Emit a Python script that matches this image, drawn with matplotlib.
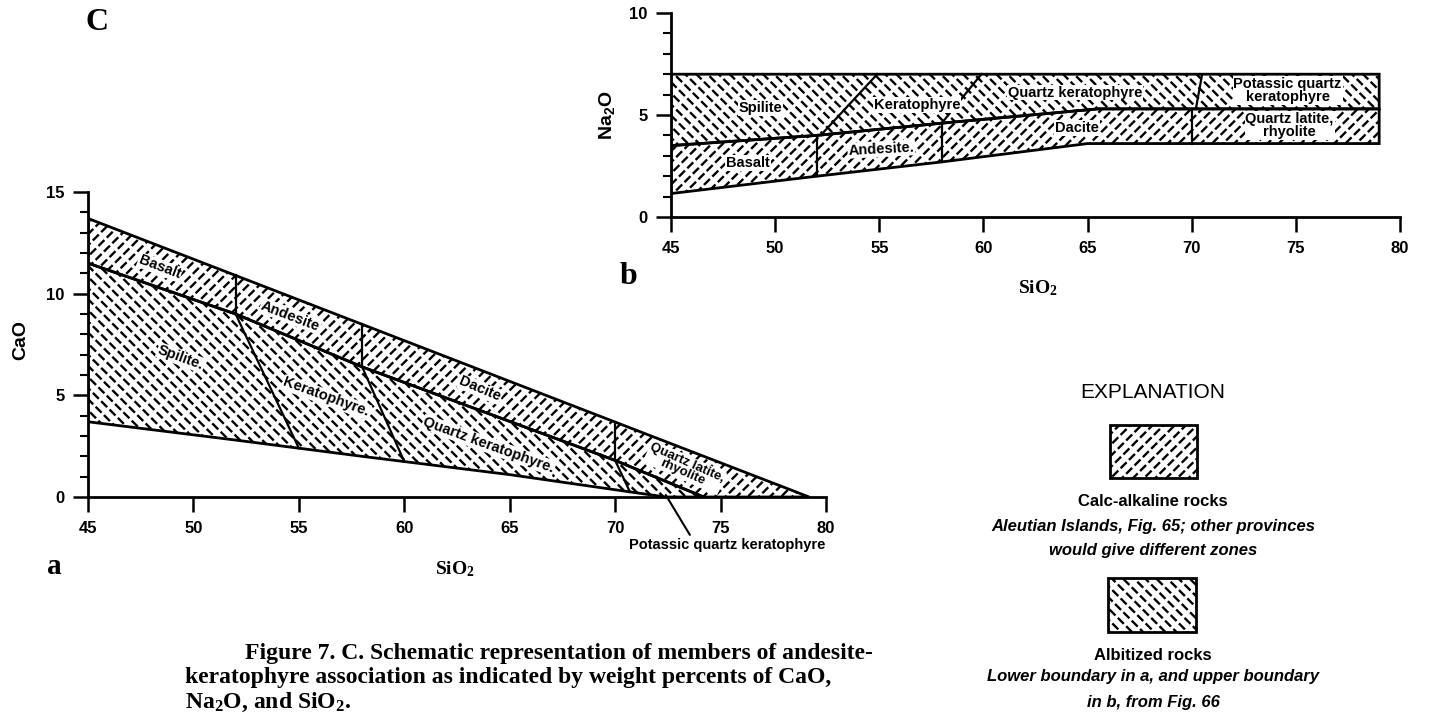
import matplotlib
matplotlib.use("Agg")
import numpy as np
import matplotlib.pyplot as plt
from matplotlib.patches import Polygon
from matplotlib.ticker import MultipleLocator
from matplotlib import font_manager

# panel a: CaO vs SiO2, boundary lines
a_top_si = [45, 79.2]
a_top_cao = [13.7, 0.0]
a_mid_si = [45, 52, 58, 64, 70, 74.2]
a_mid_cao = [11.5, 9.0, 6.4, 4.1, 1.8, 0.0]
a_low_si = [45, 52, 58, 65, 72.4]
a_low_cao = [3.7, 2.8, 2.0, 1.1, 0.0]
a_calc_div = [52, 58, 70]          # calc-alkaline zone limits
a_alb_div_top = [52, 58, 70]       # albitized zone limits on the middle line
a_alb_div_low = [55, 60, 70.7]     # ...and where they reach the lower line
a_calc_names = ["Basalt", "Andesite", "Dacite", "Quartz latite,\nrhyolite"]
a_alb_names = ["Spilite.", "Keratophyre.", "Quartz keratophyre."]

# panel b: Na2O vs SiO2
b_top_si = [45, 79]
b_top_na = [7.0, 7.0]
b_mid_si = [45, 52, 58, 65.5, 79]
b_mid_na = [3.5, 4.0, 4.6, 5.3, 5.3]
b_low_si = [45, 52, 58, 65, 79]
b_low_na = [1.15, 2.0, 2.7, 3.6, 3.6]
b_calc_div = [52, 58, 70]
b_alb_div_low = [52.2, 58, 70.2]
b_alb_div_top = [54.9, 59.9, 70.5]
b_calc_names = ["Basalt", "Andesite.", "Dacite", "Quartz latite,\nrhyolite"]
b_alb_names = ["Spilite", "Keratophyre", "Quartz keratophyre",
               "Potassic quartz\nkeratophyre"]

# label placement (x, y, rotation)
a_calc_pos = [(48.4, 11.3, -21), (54.6, 8.9, -21), (63.6, 5.3, -23), (73.3, 1.45, -24)]
a_alb_pos = [(49.4, 6.85, -20), (56.3, 4.9, -20), (64.0, 2.55, -20)]
b_calc_pos = [(48.7, 2.65, 0), (55.1, 3.33, 3), (64.5, 4.36, 0), (74.7, 4.5, 0)]
b_alb_pos = [(49.3, 5.35, 0), (56.8, 5.5, 0), (64.4, 6.1, 0), (74.6, 6.2, 0)]

W, H = 1430, 726
names = {f.name for f in font_manager.fontManager.ttflist}
narrow = 'Liberation Sans Narrow' if 'Liberation Sans Narrow' in names else 'Liberation Sans'
SANS = ['Liberation Sans', 'DejaVu Sans']
SERIF = ['Liberation Serif', 'DejaVu Serif']

plt.rcParams['font.family'] = SANS
plt.rcParams['font.weight'] = 'bold'
plt.rcParams['mathtext.default'] = 'regular'
plt.rcParams['hatch.linewidth'] = 1.7

fig = plt.figure(figsize=(W / 100, H / 100), dpi=100)

CUT = {'///': '\\\\', '\\\\\\': '//'}


def hatched(add, verts, hatch, **kw):
    # black hatch, broken into dashes by a white cross hatch
    add(Polygon(verts, closed=True, facecolor='none', edgecolor='black',
                lw=0, hatch=hatch, zorder=1, **kw))
    p = Polygon(verts, closed=True, facecolor='none', edgecolor='white',
                lw=0, hatch=CUT[hatch], zorder=1.5, **kw)
    if hasattr(p, 'set_hatch_linewidth'):
        p.set_hatch_linewidth(2.4)
        add(p)
    add(Polygon(verts, closed=True, fill=False, edgecolor='black',
                lw=2, zorder=2, **kw))


def style_axes(ax, ymax):
    for s in ['top', 'right']:
        ax.spines[s].set_visible(False)
    for s in ['left', 'bottom']:
        ax.spines[s].set_linewidth(2)
    ax.set_xlim(45, 80)
    ax.set_ylim(0, ymax)
    ax.set_xticks(np.arange(45, 81, 5))
    ax.set_yticks(np.arange(0, ymax + 1, 5))
    ax.yaxis.set_minor_locator(MultipleLocator(1))
    ax.tick_params(which='major', direction='out', length=11, width=1.8,
                   labelsize=12, pad=6)
    ax.tick_params(which='minor', direction='out', length=6, width=1.5)
    for lbl in ax.get_xticklabels() + ax.get_yticklabels():
        lbl.set_fontweight('bold')


def zone_label(ax, x, y, rot, s, size=10.5):
    ax.text(x, y, s, rotation=rot, ha='center', va='center', fontsize=size,
            family=[narrow, 'DejaVu Sans'], fontweight='bold', zorder=4,
            linespacing=0.9, rotation_mode='anchor',
            bbox=dict(facecolor='white', edgecolor='none', pad=0.6))


# ---------------- panel a ----------------
ax_a = fig.add_axes([88 / W, (H - 497) / H, (826 - 88) / W, (497 - 192) / H])
style_axes(ax_a, 15)
calc_a = np.column_stack([a_top_si + a_mid_si[::-1], a_top_cao + a_mid_cao[::-1]])
alb_a = np.column_stack([a_mid_si + a_low_si[::-1], a_mid_cao + a_low_cao[::-1]])
hatched(ax_a.add_patch, calc_a, '///')
hatched(ax_a.add_patch, alb_a, '\\\\\\')
for s in a_calc_div:
    ax_a.plot([s, s], [np.interp(s, a_mid_si, a_mid_cao), np.interp(s, a_top_si, a_top_cao)],
              color='black', lw=1.6, zorder=3)
for s0, s1 in zip(a_alb_div_top, a_alb_div_low):
    ax_a.plot([s0, s1], [np.interp(s0, a_mid_si, a_mid_cao), np.interp(s1, a_low_si, a_low_cao)],
              color='black', lw=1.6, zorder=3)
for (x, y, r), s in zip(a_calc_pos, a_calc_names):
    zone_label(ax_a, x, y, r, s, size=9.5 if '\n' in s else 10.5)
for (x, y, r), s in zip(a_alb_pos, a_alb_names):
    zone_label(ax_a, x, y, r, s)
ax_a.annotate("Potassic quartz keratophyre", xy=(72.4, 0.1), xytext=(75.3, -2.0),
              ha='center', va='top', fontsize=10.5, family=[narrow, 'DejaVu Sans'],
              fontweight='bold', annotation_clip=False,
              arrowprops=dict(arrowstyle='-', lw=1.5, color='black', shrinkA=0,
                              shrinkB=0, relpos=(0.32, 1.0)))
ax_a.set_ylabel("CaO", fontsize=14, fontweight='bold')
ax_a.yaxis.set_label_coords(-0.08, 0.515)
ax_a.set_xlabel("SiO$_2$", fontsize=14, fontweight='bold', family=SERIF)
ax_a.xaxis.set_label_coords(0.497, -0.205)

# ---------------- panel b ----------------
ax_b = fig.add_axes([671 / W, (H - 217) / H, (1400 - 671) / W, (217 - 13) / H])
style_axes(ax_b, 10)
alb_b = np.column_stack([b_top_si + b_mid_si[::-1], b_top_na + b_mid_na[::-1]])
calc_b = np.column_stack([b_mid_si + b_low_si[::-1], b_mid_na + b_low_na[::-1]])
hatched(ax_b.add_patch, alb_b, '\\\\\\')
hatched(ax_b.add_patch, calc_b, '///')
for s in b_calc_div:
    ax_b.plot([s, s], [np.interp(s, b_low_si, b_low_na), np.interp(s, b_mid_si, b_mid_na)],
              color='black', lw=1.6, zorder=3)
for s0, s1 in zip(b_alb_div_low, b_alb_div_top):
    ax_b.plot([s0, s1], [np.interp(s0, b_mid_si, b_mid_na), np.interp(s1, b_top_si, b_top_na)],
              color='black', lw=1.6, zorder=3)
for (x, y, r), s in zip(b_calc_pos, b_calc_names):
    zone_label(ax_b, x, y, r, s)
for (x, y, r), s in zip(b_alb_pos, b_alb_names):
    zone_label(ax_b, x, y, r, s)
ax_b.set_ylabel("Na$_2$O", fontsize=14, fontweight='bold')
ax_b.yaxis.set_label_coords(-0.074, 0.5)
ax_b.set_xlabel("SiO$_2$", fontsize=14, fontweight='bold', family=SERIF)
ax_b.xaxis.set_label_coords(0.503, -0.30)

# panel letters
fig.text(97 / W, 1 - 22 / H, "C", fontsize=23, fontweight='bold', family=SERIF,
         ha='center', va='center')
fig.text(54 / W, 1 - 566 / H, "a", fontsize=21, fontweight='bold', family=SERIF,
         ha='center', va='center')
fig.text(628 / W, 1 - 277 / H, "b", fontsize=23, fontweight='bold', family=SERIF,
         ha='center', va='center')

# ---------------- explanation ----------------
fig.text(1153 / W, 1 - 393 / H, "EXPLANATION", fontsize=15, fontweight='normal',
         ha='center', va='center')
boxes = [((1110, 425, 87, 53), '///'), ((1108, 578, 88, 54), '\\\\\\')]
for (x, y, w, h), hp in boxes:
    verts = [(x / W, 1 - (y + h) / H), ((x + w) / W, 1 - (y + h) / H),
             ((x + w) / W, 1 - y / H), (x / W, 1 - y / H)]
    hatched(fig.add_artist, verts, hp, transform=fig.transFigure)

expl = [("Calc-alkaline rocks", 502, 'normal'),
        ("Aleutian Islands, Fig. 65; other provinces", 526, 'italic'),
        ("would give different zones", 551, 'italic'),
        ("Albitized rocks", 655, 'normal'),
        ("Lower boundary in a, and upper boundary", 677, 'italic'),
        ("in b, from Fig. 66", 703, 'italic')]
for s, y, st in expl:
    fig.text(1153 / W, 1 - y / H, s, fontsize=12, fontweight='bold', style=st,
             ha='center', va='center')

# ---------------- caption ----------------
caption = [("Figure 7. C. Schematic representation of members of andesite-", 245, 654),
           ("keratophyre association as indicated by weight percents of CaO,", 185, 678),
           ("Na$_2$O, and SiO$_2$.", 185, 702)]
for s, x, y in caption:
    fig.text(x / W, 1 - y / H, s, fontsize=17, fontweight='bold', family=SERIF,
             ha='left', va='center')

fig.savefig("out.png", dpi=100)
